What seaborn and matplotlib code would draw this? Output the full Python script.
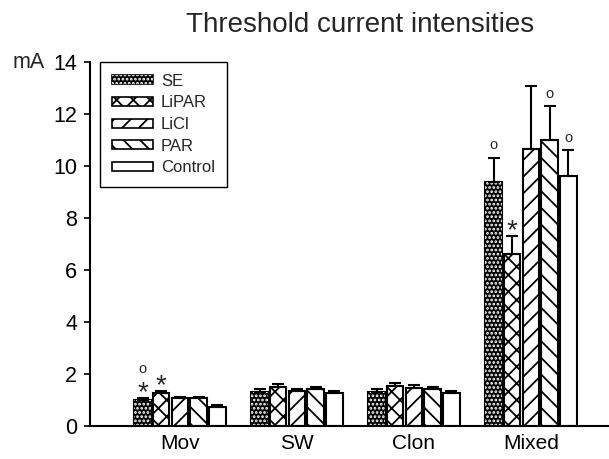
import matplotlib
matplotlib.use("Agg")
import matplotlib.pyplot as plt
from matplotlib.patches import Patch, Rectangle
import seaborn as sns
import numpy as np
import pandas as pd

# seizure types on the x axis and treatment groups (hue)
seizure = ["Mov", "SW", "Clon", "Mixed"]
groups = ["SE", "LiPAR", "LiCl", "PAR", "Control"]

# mean threshold current (mA) per group, in seizure order
se_mean = [1.0, 1.32, 1.32, 9.38]
lipar_mean = [1.27, 1.51, 1.54, 6.62]
licl_mean = [1.07, 1.36, 1.47, 10.67]
par_mean = [1.07, 1.41, 1.41, 11.0]
control_mean = [0.73, 1.26, 1.26, 9.6]

# upper error (SEM)
se_err = [0.07, 0.09, 0.09, 0.94]
lipar_err = [0.07, 0.11, 0.10, 0.70]
licl_err = [0.04, 0.08, 0.12, 2.42]
par_err = [0.05, 0.10, 0.10, 1.31]
control_err = [0.06, 0.10, 0.10, 1.02]

# significance marks drawn above bars, bottom to top
marks = {
    ("SE", "Mov"): ["*", "o"],
    ("LiPAR", "Mov"): ["*"],
    ("SE", "Mixed"): ["o"],
    ("LiPAR", "Mixed"): ["*"],
    ("PAR", "Mixed"): ["o"],
    ("Control", "Mixed"): ["o"],
}

means = [se_mean, lipar_mean, licl_mean, par_mean, control_mean]
errs = [se_err, lipar_err, licl_err, par_err, control_err]
hatches = ["", "xx", "//", "\\\\", ""]
faces = ["black", "white", "white", "white", "white"]
dots = "...."  # white dots on the black SE bars

df = pd.DataFrame({
    "seizure": seizure * len(groups),
    "group": np.repeat(groups, len(seizure)),
    "mA": np.concatenate(means),
})

sns.set_style("white")
plt.rcParams["font.family"] = ["Liberation Sans", "DejaVu Sans"]
plt.rcParams["hatch.linewidth"] = 1.3

fig = plt.figure(figsize=(6.09, 4.59), dpi=100)
ax = fig.add_axes([90 / 609, 33 / 459, 519 / 609, 364 / 459])

sns.barplot(data=df, x="seizure", y="mA", hue="group", order=seizure,
            hue_order=groups, palette=dict(zip(groups, faces)),
            edgecolor="black", linewidth=1.5, width=0.8, gap=0.12,
            errorbar=None, legend=False, saturation=1, ax=ax)

for cont, hatch, err, grp in zip(ax.containers, hatches, errs, groups):
    xs, ys = [], []
    for bar, cat in zip(cont, seizure):
        bar.set_hatch(hatch)
        bar.set_edgecolor("black")
        if grp == "SE":
            ax.add_patch(Rectangle(bar.get_xy(), bar.get_width(), bar.get_height(),
                                   facecolor="none", edgecolor="white",
                                   linewidth=0, hatch=dots, zorder=bar.get_zorder()))
        x = bar.get_x() + bar.get_width() / 2
        y = bar.get_height()
        xs.append(x)
        ys.append(y)
        # stack the significance symbols
        off = 0
        for s in marks.get((grp, cat), []):
            yt = y + err[seizure.index(cat)]
            if s == "*":
                ax.annotate("*", (x, yt), xytext=(0, off - 1.5),
                            textcoords="offset points", ha="center",
                            va="baseline", fontsize=20)
                off += 12
            else:
                ax.annotate("o", (x, yt), xytext=(0, off + 6),
                            textcoords="offset points", ha="center",
                            va="baseline", fontsize=10.5)
    ax.errorbar(xs, ys, yerr=[np.zeros(len(err)), err], fmt="none",
                ecolor="black", elinewidth=1.5, capsize=4.3, capthick=1.5)

ax.set_xlim(-0.769, 3.667)
ax.set_ylim(0, 14)
ax.set_yticks(np.arange(0, 15, 2))
ax.set_xlabel("")
ax.set_ylabel("mA", rotation=0, ha="left", va="center", fontsize=15.5)
ax.yaxis.set_label_coords(-0.150, 1.0)

sns.despine(ax=ax)
for side in ["left", "bottom"]:
    ax.spines[side].set_linewidth(1.5)
    ax.spines[side].set_color("black")
ax.tick_params(axis="y", direction="out", length=4.3, width=1.2,
               labelsize=15.5, pad=5, left=True, colors="black")
ax.tick_params(axis="x", length=0, labelsize=15, pad=6, colors="black")

handles = []
for g, h, fc in zip(groups, hatches, faces):
    p = Patch(facecolor=fc, edgecolor="black", hatch=h, linewidth=1.2)
    if g == "SE":
        p = (p, Patch(facecolor="none", edgecolor="white", linewidth=0, hatch=dots))
    handles.append(p)
leg = ax.legend(handles=handles, labels=groups, loc="upper left",
                bbox_to_anchor=(10 / 519, 1.0), borderaxespad=0,
                fontsize=12, handlelength=2.5, handleheight=0.45,
                handletextpad=0.45, labelspacing=0.4, borderpad=0.7,
                fancybox=False, framealpha=1)
leg.get_frame().set_edgecolor("black")
leg.get_frame().set_linewidth(1.0)

fig.text(360 / 609, 1 - 32 / 459, "Threshold current intensities",
         ha="center", va="baseline", fontsize=20)

fig.savefig("out.png", dpi=100)
